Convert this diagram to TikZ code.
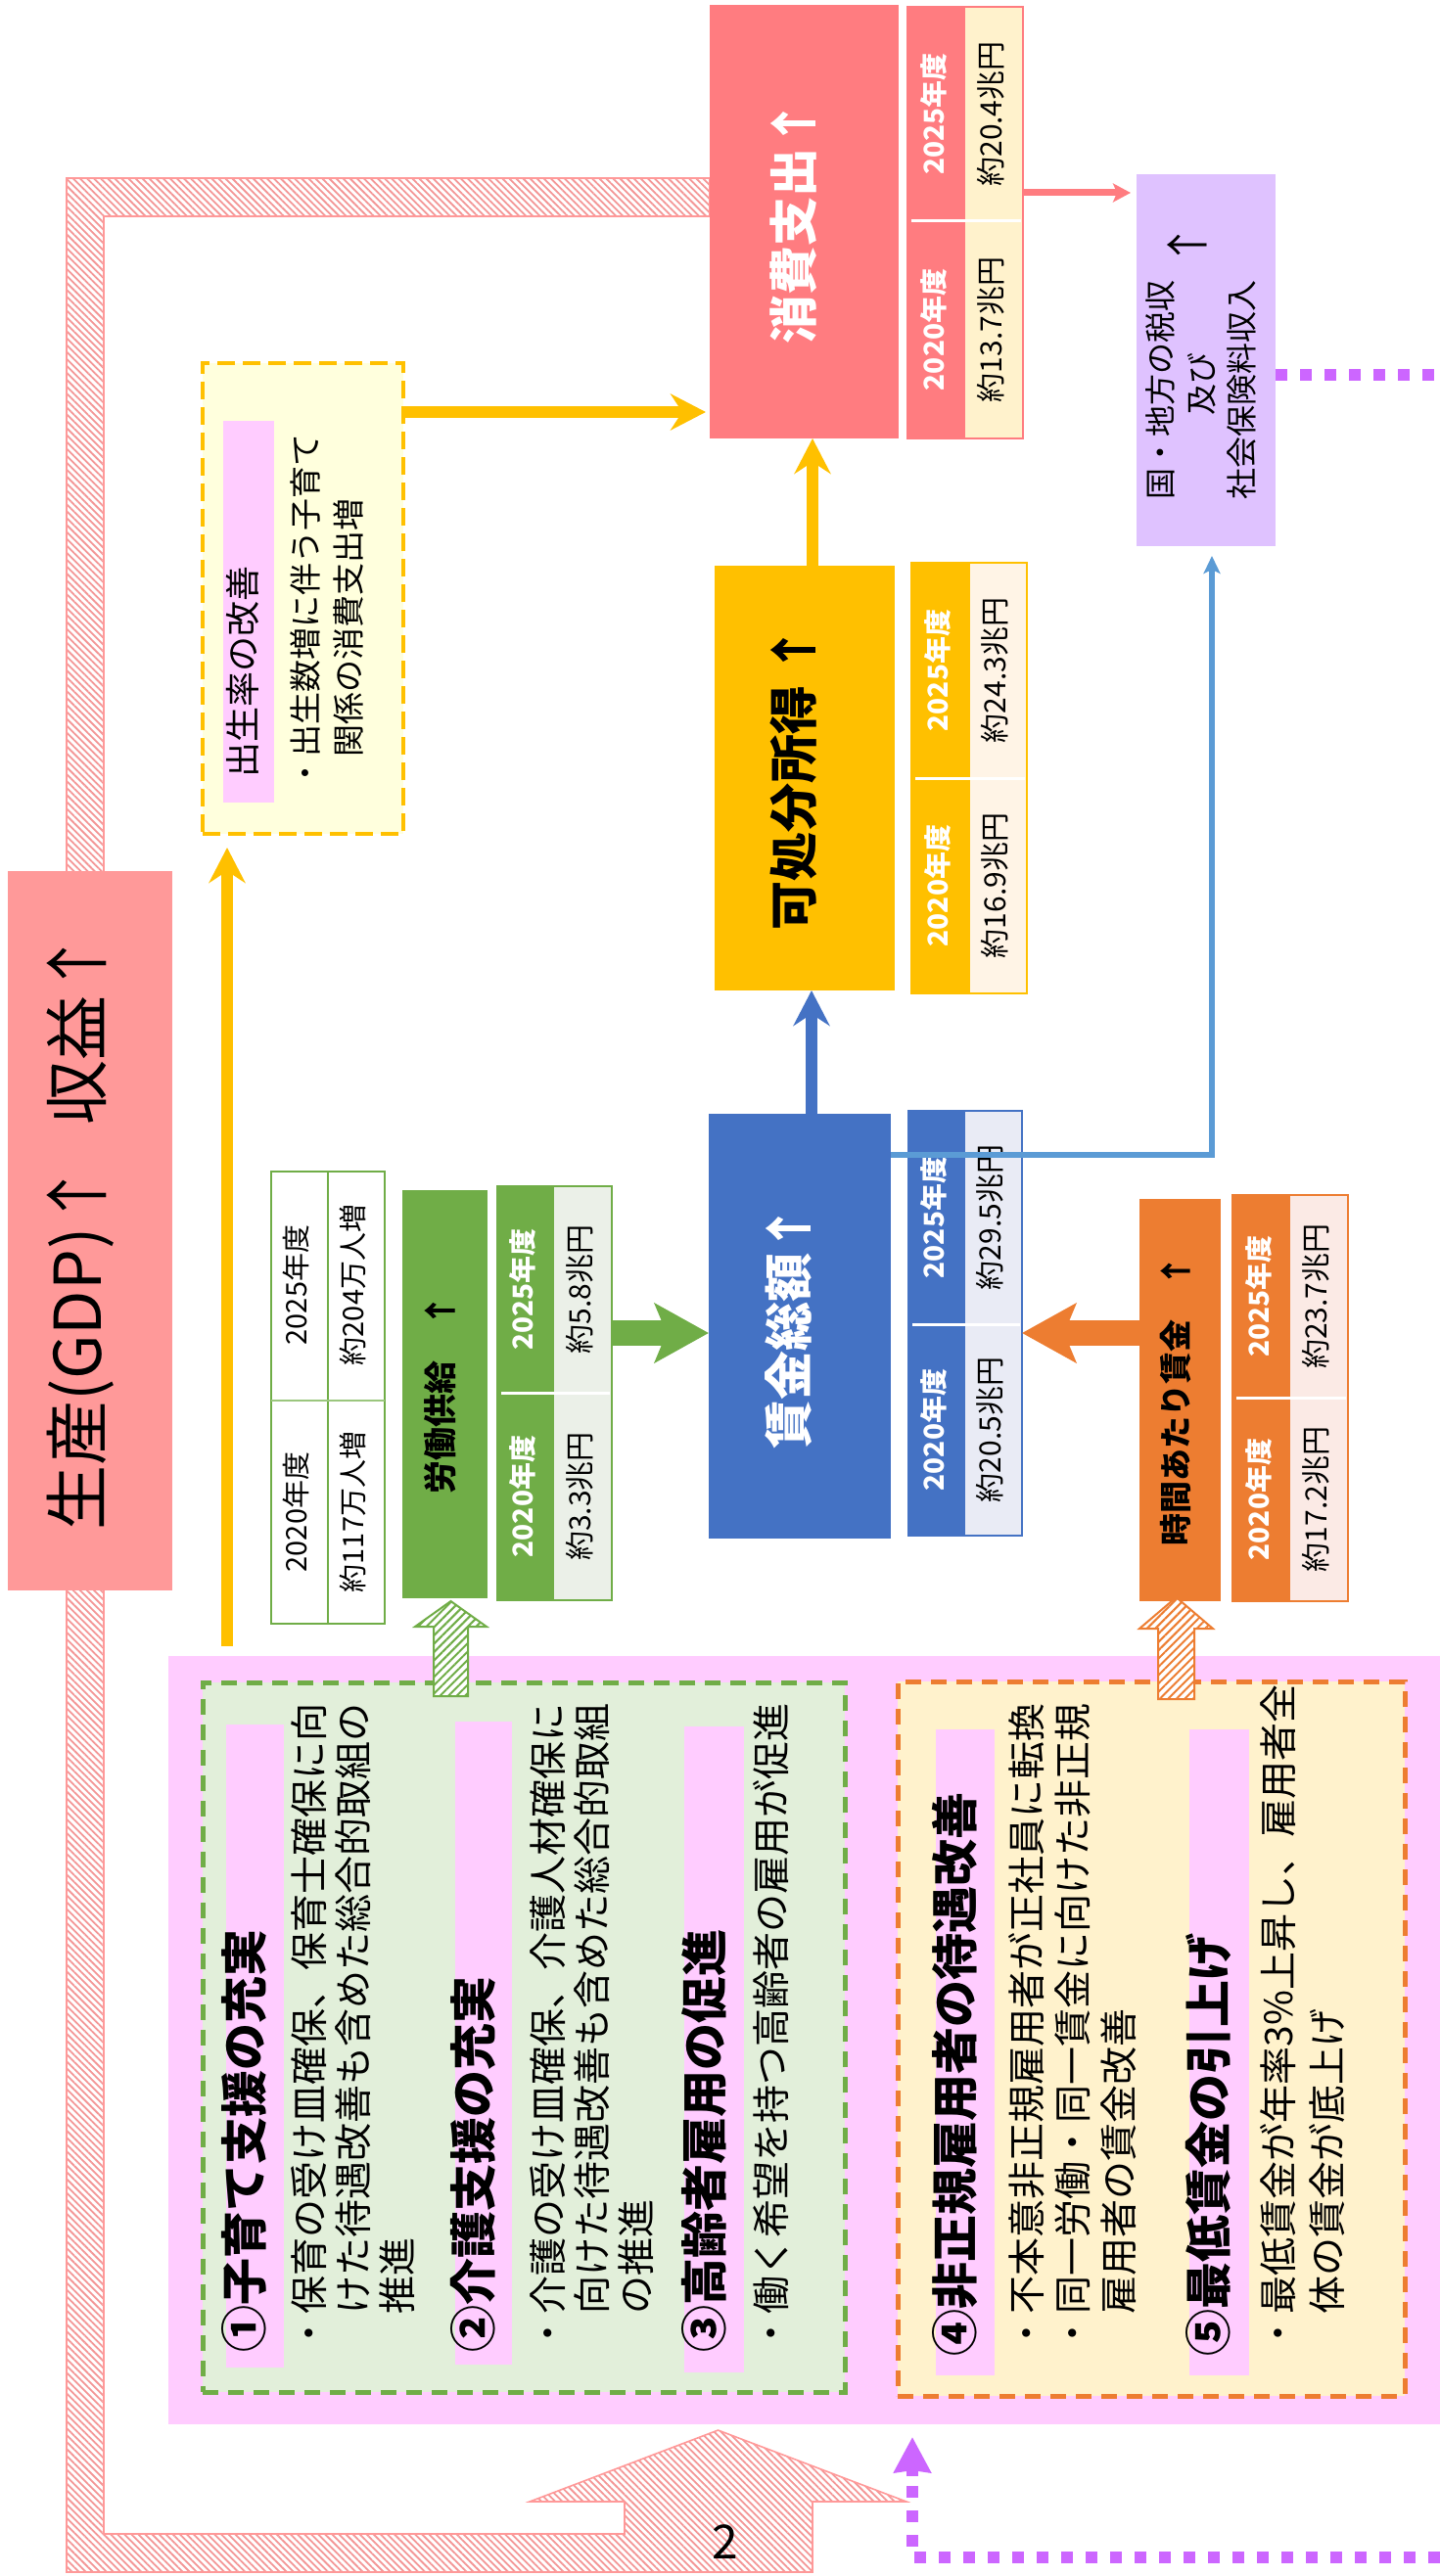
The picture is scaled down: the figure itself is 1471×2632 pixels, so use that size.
\documentclass[tikz,border=0pt]{standalone}
\usepackage{fontspec}
\setmainfont{Noto Sans CJK JP}
\usetikzlibrary{arrows.meta,patterns.meta,fit}
\definecolor{bandpink}{RGB}{244,150,150}
\definecolor{banner}{RGB}{255,153,153}
\definecolor{conscol}{RGB}{255,124,128}
\definecolor{cream}{RGB}{255,242,204}
\definecolor{taxcol}{RGB}{223,194,255}
\definecolor{purp}{RGB}{204,102,255}
\definecolor{gold}{RGB}{255,192,0}
\definecolor{paleor}{RGB}{255,244,230}
\definecolor{wblue}{RGB}{68,114,196}
\definecolor{lblue}{RGB}{91,155,213}
\definecolor{palebl}{RGB}{233,235,245}
\definecolor{lgreen}{RGB}{112,173,71}
\definecolor{palegr}{RGB}{235,240,232}
\definecolor{orng}{RGB}{237,125,49}
\definecolor{palesal}{RGB}{251,234,229}
\definecolor{polpink}{RGB}{255,204,255}
\definecolor{gboxc}{RGB}{226,239,218}
\definecolor{oboxc}{RGB}{255,242,204}
\definecolor{yboxc}{RGB}{255,255,221}
\newcommand\tbl[9]{%
  \pgfmathsetmacro\ta{(#2+#6)/2}%
  \pgfmathsetmacro\tb{(#6+#4)/2}%
  \pgfmathsetmacro\tc{(#3+#7)/2}%
  \pgfmathsetmacro\td{(#7+#5)/2}%
  \fill[#9] (#2,#3) rectangle (#4,#5);
  \fill[#8] (#2,#3) rectangle (#6,#5);
  \draw[white, line width=1.5pt] (#2+4,#7) -- (#4-2,#7);
  \node[box, fit={(#2,#3) (#4,#5)}, draw=#8, line width=1pt] (#1) {};
}
\newcommand\tbltext[5]{%
  \node[yr] (#1-y1) at (\ta,\tc) {#2};
  \node[val] (#1-v1) at (\tb,\tc) {#3};
  \node[yr] (#1-y2) at (\ta,\td) {#4};
  \node[val] (#1-v2) at (\tb,\td) {#5};
}
\begin{document}
\begin{tikzpicture}[x=0.5pt,y=-0.5pt,
  rt/.style={rotate=90, inner sep=0pt, outer sep=0pt, text height=0.88em, text depth=0.12em},
  box/.style={inner sep=0pt, outer sep=0pt},
  yr/.style={rt, text=white, font=\bfseries\fontsize{14}{16}\selectfont},
  val/.style={rt, font=\fontsize{15}{17}\selectfont},
  bigt/.style={rt, font=\bfseries\fontsize{25}{28}\selectfont},
  head/.style={rt, anchor=west, font=\bfseries\fontsize{24}{26}\selectfont},
  body/.style={rt, anchor=west, font=\fontsize{19.5}{22}\selectfont},
  popt/.style={rt, font=\fontsize{14.5}{16}\selectfont},
  dotp/.style={purp, line width=6pt, dash pattern=on 6pt off 6.5pt},
  fatarr/.style={line width=13pt, -{Stealth[length=27.5pt, width=30pt, inset=6pt]}},
  thickarr/.style={line width=6pt, -{Stealth[length=18pt, width=18.5pt, inset=6pt]}},
  hatchg/.style={preaction={fill=white}, pattern={Lines[angle=45,distance=3pt,line width=1pt]}, pattern color=lgreen, draw=lgreen, line width=1pt},
  hatcho/.style={preaction={fill=white}, pattern={Lines[angle=45,distance=3pt,line width=1pt]}, pattern color=orng, draw=orng, line width=1pt},
]
\useasboundingbox (0,0) rectangle (1471,2632);
% big hatched loop arrow
\path[preaction={fill=white}, pattern={Lines[angle=-45,distance=2.5pt,line width=0.9pt]}, pattern color=bandpink, draw=banner, line width=0.8pt]
  (725,182) -- (68,182) -- (68,2628) -- (830,2628) -- (830,2556) -- (926,2556) -- (733.5,2483)
  -- (541,2556) -- (638,2556) -- (638,2589) -- (106,2589) -- (106,221) -- (725,221) -- cycle;
% banner
\node[box, fit={(8,890) (176,1625)}, fill=banner] (banner) {};
\node[rt, font=\fontsize{33}{36}\selectfont] (bannertxt) at ([xshift=2pt]banner.center) {生産(GDP)↑\hspace{0.6em}収益↑};
% consumption
\node[box, fit={(725,5) (918,448)}, fill=conscol] (cons) {};
\node[bigt, text=white] (constxt) at (cons.center) {消費支出↑};
\tbl{constab}{927}{7}{1045}{448}{986}{226}{conscol}{cream}
\tbltext{constab}{2025年度}{約20.4兆円}{2020年度}{約13.7兆円}
% tax
\node[box, fit={(1161,178) (1303,558)}, fill=taxcol] (tax) {};
\node[rt, anchor=west, font=\fontsize{16}{18}\selectfont] (tax1) at (1190,510) {国・地方の税収};
\node[rt, font=\fontsize{16}{18}\selectfont] (tax2) at (1232,392) {及び};
\node[rt, anchor=west, font=\fontsize{16}{18}\selectfont] (tax3) at (1273,510) {社会保険料収入};
\node[rt, font=\fontsize{22}{24}\selectfont] (taxup) at (1222,251) {↑};
% disposable income
\node[box, fit={(730,578) (914,1012)}, fill=gold] (disp) {};
\node[bigt] (disptxt) at (disp.center) {可処分所得 ↑};
\tbl{disptab}{931}{575}{1049}{1015}{991}{795}{gold}{paleor}
\tbltext{disptab}{2025年度}{約24.3兆円}{2020年度}{約16.9兆円}
% wages
\node[box, fit={(724,1138) (910,1572)}, fill=wblue] (wage) {};
\node[bigt, text=white] (wagetxt) at (wage.center) {賃金総額↑};
\tbl{wagetab}{928}{1135}{1044}{1569}{986}{1353}{wblue}{palebl}
\tbltext{wagetab}{2025年度}{約29.5兆円}{2020年度}{約20.5兆円}
% labour supply
\node[box, fit={(411,1216) (498,1633)}, fill=lgreen] (labor) {};
\node[rt, font=\bfseries\fontsize{17}{19}\selectfont] (labortxt) at (labor.center) {労働供給　↑};
\tbl{labortab}{508}{1212}{625}{1635}{566}{1423}{lgreen}{palegr}
\tbltext{labortab}{2025年度}{約5.8兆円}{2020年度}{約3.3兆円}
% population table
\node[box, fit={(277,1197) (393,1659)}, fill=white, draw=lgreen, line width=1pt] (pop) {};
\draw[lgreen, line width=1pt] (pop.north -| 335,0) -- (pop.south -| 335,0);
\draw[lgreen!70!white, line width=1pt] (pop.west |- 0,1431) -- (pop.east |- 0,1431);
\node[popt] (pop-y1) at (306,1313) {2025年度};
\node[popt] (pop-v1) at (364,1313) {約204万人増};
\node[popt] (pop-y2) at (306,1545) {2020年度};
\node[popt] (pop-v2) at (364,1545) {約117万人増};
% hourly wage
\node[box, fit={(1164,1225) (1247,1636)}, fill=orng] (hourly) {};
\node[rt, font=\bfseries\fontsize{16.5}{18}\selectfont] (hourlytxt) at (hourly.center) {時間あたり賃金　↑};
\tbl{hourtab}{1259}{1221}{1377}{1636}{1318}{1428}{orng}{palesal}
\tbltext{hourtab}{2025年度}{約23.7兆円}{2020年度}{約17.2兆円}
% birth rate box
\node[box, fit={(207,371) (412,852)}, fill=yboxc, draw=gold, line width=2pt, dash pattern=on 9pt off 4pt] (birth) {};
\fill[polpink] (228,430) rectangle (280,820);
\node[rt, anchor=west, font=\fontsize{18}{20}\selectfont] (birthh) at (254,794) {出生率の改善};
\node[rt, anchor=west, font=\fontsize{16.5}{18}\selectfont] (birth1) at (317,806) {・出生数増に伴う子育て};
\node[rt, anchor=west, font=\fontsize{16.5}{18}\selectfont] (birth2) at (361,806) {\phantom{・}関係の消費支出増};
% policy area
\node[box, fit={(172,1692) (1471,2477)}, fill=polpink] (policy) {};
\node[box, fit={(207,1719) (863,2444)}, fill=gboxc, draw=lgreen, line width=2.5pt, dash pattern=on 8pt off 5pt] (gbox) {};
\node[box, fit={(917,1718) (1435,2448)}, fill=oboxc, draw=orng, line width=2.5pt, dash pattern=on 8pt off 5pt] (obox) {};
\fill[polpink] (231,1762) rectangle (290,2419);
\fill[polpink] (465,1759) rectangle (523,2416);
\fill[polpink] (699,1764) rectangle (760,2424);
\fill[polpink] (956,1767) rectangle (1016,2427);
\fill[polpink] (1215,1767) rectangle (1276,2427);
\node[head] (h1) at (260,2403) {①子育て支援の充実};
\node[body] (b1a) at (323,2403) {・保育の受け皿確保、保育士確保に向};
\node[body] (b1b) at (368,2403) {\phantom{・}けた待遇改善も含めた総合的取組の};
\node[body] (b1c) at (413,2403) {\phantom{・}推進};
\node[head] (h2) at (494,2403) {②介護支援の充実};
\node[body] (b2a) at (567,2403) {・介護の受け皿確保、介護人材確保に};
\node[body] (b2b) at (612,2403) {\phantom{・}向けた待遇改善も含めた総合的取組};
\node[body] (b2c) at (657,2403) {\phantom{・}の推進};
\node[head] (h3) at (730,2403) {③高齢者雇用の促進};
\node[body] (b3a) at (795,2403) {・働く希望を持つ高齢者の雇用が促進};
\node[head] (h4) at (986,2407) {④非正規雇用者の待遇改善};
\node[body] (b4a) at (1056,2403) {・不本意非正規雇用者が正社員に転換};
\node[body] (b4b) at (1103,2403) {・同一労働・同一賃金に向けた非正規};
\node[body] (b4c) at (1150,2403) {\phantom{・}雇用者の賃金改善};
\node[head] (h5) at (1245,2407) {⑤最低賃金の引上げ};
\node[body] (b5a) at (1313,2403) {・最低賃金が年率3\%上昇し、雇用者全};
\node[body] (b5b) at (1363,2403) {\phantom{・}体の賃金が底上げ};
% hatched up arrows
\path[hatchg] (443,1733) -- (443,1662) -- (424,1662) -- (460.5,1636) -- (497,1662) -- (478,1662) -- (478,1733) -- cycle;
\path[hatcho] (1183,1736) -- (1183,1664) -- (1164,1664) -- (1201.5,1632) -- (1239,1664) -- (1220,1664) -- (1220,1736) -- cycle;
% connectors
\coordinate (gstart) at (232,1682);
\draw[thickarr, gold, shorten >=7pt] (gstart) -- (birth.south -| gstart);
\draw[thickarr, gold, shorten >=2pt] (birth.east |- 0,421) -- (cons.west |- 0,421);
\draw[thickarr, gold] (disp.north -| 830,0) -- (cons.south -| 830,0);
\draw[thickarr, wblue] (wage.north -| 829,0) -- (disp.south -| 829,0);
\draw[fatarr, lgreen] (labortab.east |- 0,1362) -- (wage.west |- 0,1362);
\draw[fatarr, orng] (hourly.west |- 0,1362) -- (wagetab.east |- 0,1362);
\draw[conscol, line width=3.5pt, -{Stealth[length=9pt, width=9.5pt, inset=2pt]}, shorten >=3pt] (constab.east |- 0,197) -- (tax.west |- 0,197);
\draw[lblue, line width=3pt, -{Stealth[length=9pt, width=8.5pt, inset=2pt]}, shorten >=5pt] (wage.east |- 0,1180) -| ([xshift=3pt]tax.south);
\coordinate (pr1) at (1471,383);
\draw[dotp] (tax.east |- pr1) -- (pr1);
\coordinate (pr2) at (1471,2613);
\coordinate (pr3) at (932,2613);
\draw[dotp] (pr2) -- (pr3) -- (932,2530);
\draw[purp, line width=6pt, -{Stealth[length=18pt, width=18.5pt, inset=1pt]}] (932,2530) -- (932,2490);
\node[font=\fontsize{24}{26}\selectfont] (pnum) at (741,2597) {2};
\end{tikzpicture}
\end{document}
